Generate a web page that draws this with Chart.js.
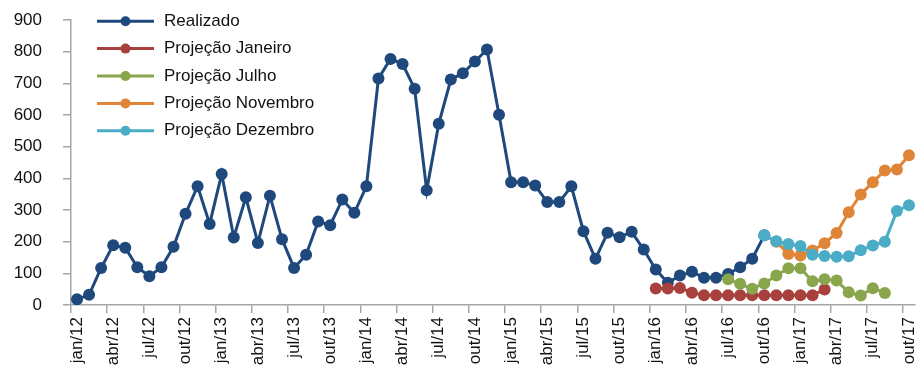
<!DOCTYPE html>
<html>
<head>
<meta charset="utf-8">
<script src="https://cdn.jsdelivr.net/npm/chart.js@4.4.1/dist/chart.umd.min.js"></script>
<style>
  html, body { margin: 0; padding: 0; background: #fff; }
  #wrap { width: 921px; height: 377px; }
</style>
</head>
<body>
<div id="wrap"><canvas id="chart" width="921" height="377"></canvas></div>
<script>
// months jan/12 .. out/17
const monthNames = ['jan', 'fev', 'mar', 'abr', 'mai', 'jun', 'jul', 'ago', 'set', 'out', 'nov', 'dez'];
const years = ['12', '13', '14', '15', '16', '17'];
const labels = [];
years.forEach(y => monthNames.forEach(m => labels.push(m + '/' + y)));
labels.length = labels.indexOf('out/17') + 1;

const realizado = [
  18, 32, 117, 189, 181, 119, 91, 119, 184, 288, 375, 256,
  414, 213, 340, 196, 345, 208, 117, 159, 264, 252, 333, 291,
  375, 715, 777, 761, 683, 362, 572, 712, 732, 769, 807, 601,
  388, 388, 377, 325, 325, 375, 233, 146, 228, 214, 231, 175,
  112, 70, 93, 105, 86, 86, 98, 119, 146, 220
];

const janeiroStart = 'jan/16';
const projJaneiro = [52, 52, 54, 39, 31, 31, 31, 31, 31, 31, 31, 31, 31, 31, 49];

const julhoStart = 'jul/16';
const projJulho = [81, 67, 51, 68, 93, 116, 116, 75, 81, 77, 40, 30, 53, 38];

const novembroStart = 'nov/16';
const projNovembro = [200, 161, 156, 172, 195, 227, 293, 349, 388, 425, 428, 473];

const dezembroStart = 'out/16';
const projDezembro = [220, 201, 193, 186, 159, 155, 152, 154, 173, 188, 200, 297, 315];

function fromMonth(start, values) {
  const out = labels.map(() => null);
  const i0 = labels.indexOf(start);
  values.forEach((v, i) => { out[i0 + i] = v; });
  return out;
}

const FONT = { family: '"Liberation Sans", Arial, sans-serif', size: 17 };
const AXIS = '#a6a6a6';

function series(label, data, color, order) {
  return {
    label: label,
    data: data,
    borderColor: color,
    backgroundColor: color,
    borderWidth: 3,
    pointRadius: 6,
    pointBorderWidth: 0,
    pointBackgroundColor: color,
    tension: 0,
    order: order
  };
}

// legend drawn inside the plot, top-left, line + marker like the original
const insideLegend = {
  id: 'insideLegend',
  afterDatasetsDraw(chart) {
    const { ctx, chartArea } = chart;
    const x0 = chartArea.left + 26;
    const y0 = chartArea.top + 1.2;
    const rowH = 27.4;
    ctx.save();
    ctx.font = FONT.size + 'px ' + FONT.family;
    ctx.textBaseline = 'middle';
    ctx.textAlign = 'left';
    chart.data.datasets.forEach((ds, i) => {
      const y = y0 + i * rowH;
      ctx.strokeStyle = ds.borderColor;
      ctx.lineWidth = 3;
      ctx.beginPath();
      ctx.moveTo(x0, y);
      ctx.lineTo(x0 + 57, y);
      ctx.stroke();
      ctx.fillStyle = ds.borderColor;
      ctx.beginPath();
      ctx.arc(x0 + 28.5, y, 5, 0, Math.PI * 2);
      ctx.fill();
      ctx.fillStyle = '#111';
      ctx.fillText(ds.label, x0 + 67, y);
    });
    ctx.restore();
  }
};

new Chart(document.getElementById('chart'), {
  type: 'line',
  data: {
    labels: labels,
    datasets: [
      series('Realizado', realizado, '#1f497d', 5),
      series('Projeção Janeiro', fromMonth(janeiroStart, projJaneiro), '#a8403e', 4),
      series('Projeção Julho', fromMonth(julhoStart, projJulho), '#89a64c', 3),
      series('Projeção Novembro', fromMonth(novembroStart, projNovembro), '#df8538', 2),
      series('Projeção Dezembro', fromMonth(dezembroStart, projDezembro), '#4bacc6', 1)
    ]
  },
  options: {
    responsive: false,
    animation: false,
    layout: { padding: { top: 20, right: 3, left: 0, bottom: 0 } },
    plugins: {
      legend: { display: false },
      tooltip: { enabled: false }
    },
    scales: {
      x: {
        offset: true,
        grid: {
          offset: true,
          drawOnChartArea: false,
          drawTicks: true,
          tickLength: 8,
          lineWidth: 1.5,
          color: ctx => (ctx.index !== undefined && ctx.index % 3 === 0) ? AXIS : 'rgba(0,0,0,0)'
        },
        border: { display: true, color: AXIS, width: 1.5 },
        ticks: {
          autoSkip: false,
          maxRotation: 90,
          minRotation: 90,
          padding: 4,
          color: '#111',
          font: FONT,
          callback: (v, i) => i % 3 === 0 ? labels[i] : ''
        },
        afterFit: s => { s.height = 72; s.paddingLeft = 0; s.paddingRight = 0; }
      },
      y: {
        min: 0,
        max: 900,
        ticks: { stepSize: 100, padding: 21, color: '#111', font: FONT },
        grid: { drawOnChartArea: false, drawTicks: true, tickLength: 8, lineWidth: 1.5, color: AXIS },
        border: { display: true, color: AXIS, width: 1.5 },
        afterFit: s => { s.width = 71; s.paddingTop = 0; s.paddingBottom = 0; }
      }
    }
  },
  plugins: [insideLegend]
});
</script>
</body>
</html>
